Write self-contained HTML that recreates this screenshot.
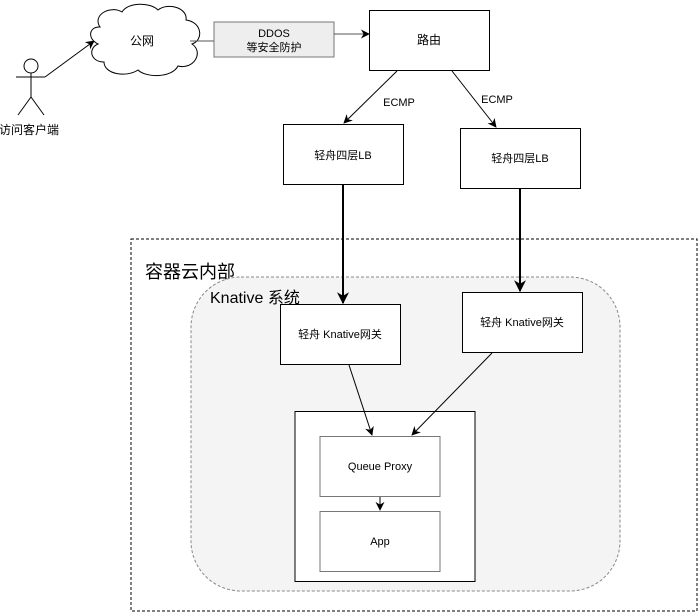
<!DOCTYPE html>
<html><head><meta charset="utf-8"><style>
body{margin:0;background:#fff}
svg{display:block}
text{font-family:"Liberation Sans","Noto Sans CJK SC",sans-serif;fill:#000}
</style></head><body>
<svg width="699" height="612" viewBox="0 0 699 612" xmlns="http://www.w3.org/2000/svg">
<defs>
<marker id="a" viewBox="0 0 10 10" refX="9" refY="5" markerWidth="9" markerHeight="9" markerUnits="userSpaceOnUse" orient="auto"><path d="M0,0 L10,5 L0,10 L3,5 z" fill="#000"/></marker>
<marker id="b" viewBox="0 0 10 10" refX="9" refY="5" markerWidth="6" markerHeight="6" orient="auto"><path d="M0,0 L10,5 L0,10 L3,5 z" fill="#000"/></marker>
</defs>
<rect x="131" y="239" width="566" height="372" fill="#fff" stroke="#000" stroke-dasharray="3,2"/>
<text x="145" y="278" font-size="18">容器云内部</text>
<rect x="191" y="277" width="429" height="314" rx="50" fill="#f4f4f4" stroke="#888" stroke-dasharray="3,2"/>
<text x="210" y="303" font-size="16">Knative 系统</text>
<circle cx="31" cy="66" r="7" fill="#fff" stroke="#000"/>
<line x1="31" y1="73" x2="31" y2="97" stroke="#000"/>
<line x1="16" y1="77" x2="45" y2="77" stroke="#000"/>
<line x1="31" y1="97" x2="18" y2="115" stroke="#000"/>
<line x1="31" y1="97" x2="44" y2="115" stroke="#000"/>
<text x="29" y="134" font-size="12" text-anchor="middle">访问客户端</text>
<line x1="45" y1="77" x2="94" y2="41" stroke="#000" marker-end="url(#a)"/>
<path d="M100,27 C92,15 110,5 122,12 C128,2 150,2 158,10 C168,2 188,8 186,20 C202,22 204,40 192,44 C204,52 194,70 178,66 C172,78 146,78 138,70 C126,78 104,74 104,62 C90,62 88,48 98,44 C86,38 90,26 100,27 Z" fill="#fff" stroke="#000"/>
<text x="142" y="45" font-size="12" text-anchor="middle">公网</text>
<line x1="190" y1="41" x2="215" y2="41" stroke="#555"/>
<rect x="214" y="22" width="120" height="35" fill="#eee" stroke="#777"/>
<text x="274" y="37" font-size="11" text-anchor="middle" fill="#333">DDOS</text>
<text x="274" y="51" font-size="11" text-anchor="middle" fill="#333">等安全防护</text>
<line x1="334" y1="34" x2="369" y2="34" stroke="#555" marker-end="url(#a)"/>
<rect x="369.5" y="10.5" width="120" height="60" fill="#fff" stroke="#000"/>
<text x="429" y="44" font-size="12" text-anchor="middle">路由</text>
<line x1="397" y1="71" x2="344" y2="123" stroke="#000" marker-end="url(#a)"/>
<line x1="452" y1="71" x2="496" y2="127" stroke="#000" marker-end="url(#a)"/>
<text x="399" y="106" font-size="11" text-anchor="middle">ECMP</text>
<text x="497" y="103" font-size="11" text-anchor="middle">ECMP</text>
<rect x="283.5" y="124.5" width="120" height="60" fill="#fff" stroke="#000"/>
<text x="343" y="159" font-size="11" text-anchor="middle">轻舟四层LB</text>
<rect x="460.5" y="128.5" width="120" height="60" fill="#fff" stroke="#000"/>
<text x="520" y="162" font-size="11" text-anchor="middle">轻舟四层LB</text>
<line x1="343" y1="185" x2="343" y2="303" stroke="#000" stroke-width="2" marker-end="url(#b)"/>
<line x1="520" y1="189" x2="520" y2="291" stroke="#000" stroke-width="2" marker-end="url(#b)"/>
<rect x="280.5" y="304.5" width="120" height="60" fill="#fff" stroke="#000"/>
<text x="340" y="338" font-size="11" text-anchor="middle">轻舟 Knative网关</text>
<rect x="462.5" y="292.5" width="120" height="60" fill="#fff" stroke="#000"/>
<text x="522" y="326" font-size="11" text-anchor="middle">轻舟 Knative网关</text>
<rect x="295" y="411.5" width="180" height="170" fill="#fff" stroke="#000"/>
<line x1="349" y1="365" x2="372" y2="435" stroke="#000" marker-end="url(#a)"/>
<line x1="492" y1="353" x2="412" y2="435" stroke="#000" marker-end="url(#a)"/>
<rect x="320" y="436.5" width="120" height="60" fill="#fff" stroke="#777"/>
<text x="380" y="470" font-size="11" text-anchor="middle">Queue Proxy</text>
<line x1="380" y1="497" x2="380" y2="510" stroke="#000" marker-end="url(#a)"/>
<rect x="320" y="511.5" width="120" height="60" fill="#fff" stroke="#777"/>
<text x="380" y="545" font-size="11" text-anchor="middle">App</text>
</svg>
</body></html>
